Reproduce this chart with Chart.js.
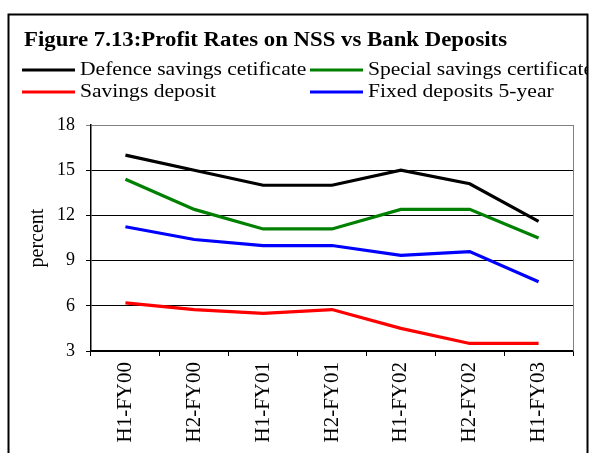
<!DOCTYPE html>
<html>
<head>
<meta charset="utf-8">
<script src="https://cdn.jsdelivr.net/npm/chart.js@4/dist/chart.umd.min.js"></script>
<style>
  html, body { margin: 0; padding: 0; background: #fff; overflow: hidden; }
  #wrap { width: 590px; height: 453px; overflow: hidden; }
</style>
</head>
<body>
<div id="wrap"><canvas id="chart" width="590" height="480"></canvas></div>
<script>
const categories = ['H1-FY00', 'H2-FY00', 'H1-FY01', 'H2-FY01', 'H1-FY02', 'H2-FY02', 'H1-FY03'];
const defenceSavings = [16, 15, 14, 14, 15, 14.1, 11.6];
const specialSavings = [14.4, 12.4, 11.1, 11.1, 12.4, 12.4, 10.5];
const savingsDeposit = [6.2, 5.75, 5.5, 5.75, 4.5, 3.5, 3.5];
const fixedDeposits = [11.25, 10.4, 10, 10, 9.35, 9.6, 7.6];
const yTicks = [3, 6, 9, 12, 15, 18];

const SERIF = "'Liberation Serif', 'Times New Roman', serif";

// draw text a bit wider than the font, like the original figure
function wideText(ctx, text, x, y, sx) {
  ctx.save();
  ctx.translate(x, y);
  ctx.scale(sx, 1);
  ctx.fillText(text, 0, 0);
  ctx.restore();
}

// title, frame and two-column legend are drawn by hand
const figurePlugin = {
  id: 'figure',
  beforeDraw(chart) {
    const ctx = chart.ctx;
    ctx.save();
    ctx.fillStyle = '#fff';
    ctx.fillRect(0, 0, chart.width, chart.height);
    ctx.restore();
  },
  afterDraw(chart) {
    const ctx = chart.ctx;
    const a = chart.chartArea;
    ctx.save();
    // grey plot frame on the right
    ctx.strokeStyle = '#808080';
    ctx.lineWidth = 1;
    ctx.beginPath();
    ctx.moveTo(Math.round(a.right) + 0.5, a.top);
    ctx.lineTo(Math.round(a.right) + 0.5, a.bottom);
    ctx.stroke();

    // text is clipped by the figure box, as in the original
    ctx.beginPath();
    ctx.rect(9, 15, 578, 500);
    ctx.clip();

    ctx.fillStyle = '#000';
    ctx.font = 'bold 20px ' + SERIF;
    ctx.textBaseline = 'alphabetic';
    wideText(ctx, 'Figure 7.13:Profit Rates on NSS vs Bank Deposits', 24, 46, 1.14);

    ctx.font = '19px ' + SERIF;
    ctx.textBaseline = 'middle';
    const cols = [22, 310];
    const rows = [70, 92];
    chart.data.datasets.forEach((ds, i) => {
      const x = cols[i % 2];
      const y = rows[Math.floor(i / 2)];
      ctx.strokeStyle = ds.borderColor;
      ctx.lineWidth = 3;
      ctx.beginPath();
      ctx.moveTo(x, y);
      ctx.lineTo(x + 53, y);
      ctx.stroke();
      ctx.fillStyle = '#000';
      wideText(ctx, ds.label, x + 58, y, 1.135);
    });
    ctx.restore();

    ctx.save();
    ctx.strokeStyle = '#000';
    ctx.lineWidth = 2;
    ctx.strokeRect(8.5, 14.5, 579, 500);
    ctx.restore();
  }
};

new Chart(document.getElementById('chart'), {
  type: 'line',
  data: {
    labels: categories,
    datasets: [
      { label: 'Defence savings cetificate', data: defenceSavings, borderColor: '#000000' },
      { label: 'Special savings certificate', data: specialSavings, borderColor: '#008000' },
      { label: 'Savings deposit', data: savingsDeposit, borderColor: '#ff0000' },
      { label: 'Fixed deposits 5-year', data: fixedDeposits, borderColor: '#0000ff' }
    ]
  },
  options: {
    responsive: false,
    animation: false,
    layout: { padding: { left: 10, top: 125, right: 17, bottom: 0 } },
    elements: {
      line: { borderWidth: 3.2, tension: 0, fill: false },
      point: { radius: 0, hoverRadius: 0 }
    },
    plugins: {
      legend: { display: false },
      tooltip: { enabled: false }
    },
    scales: {
      x: {
        offset: true,
        grid: { offset: true, drawOnChartArea: false, drawTicks: true, tickLength: 5, color: '#000' },
        border: { color: '#000', width: 1.5 },
        ticks: {
          autoSkip: false, minRotation: 90, maxRotation: 90, padding: 6,
          color: '#000', font: { family: SERIF, size: 21 }
        },
        afterFit(s) { s.height = 129; }
      },
      y: {
        min: 3,
        max: 18,
        afterBuildTicks(s) { s.ticks = yTicks.map(v => ({ value: v })); },
        grid: {
          color: c => (c.tick && c.tick.value === 18 ? '#808080' : '#000'),
          lineWidth: 1,
          tickLength: 5
        },
        border: { color: '#000', width: 1.5 },
        ticks: { padding: 11, color: '#000', font: { family: SERIF, size: 18 } },
        title: {
          display: true, text: 'percent', color: '#000',
          font: { family: SERIF, size: 20 }, padding: { top: 16, bottom: 0 }
        },
        afterFit(s) { s.width = 81; }
      }
    }
  },
  plugins: [figurePlugin]
});
</script>
</body>
</html>
